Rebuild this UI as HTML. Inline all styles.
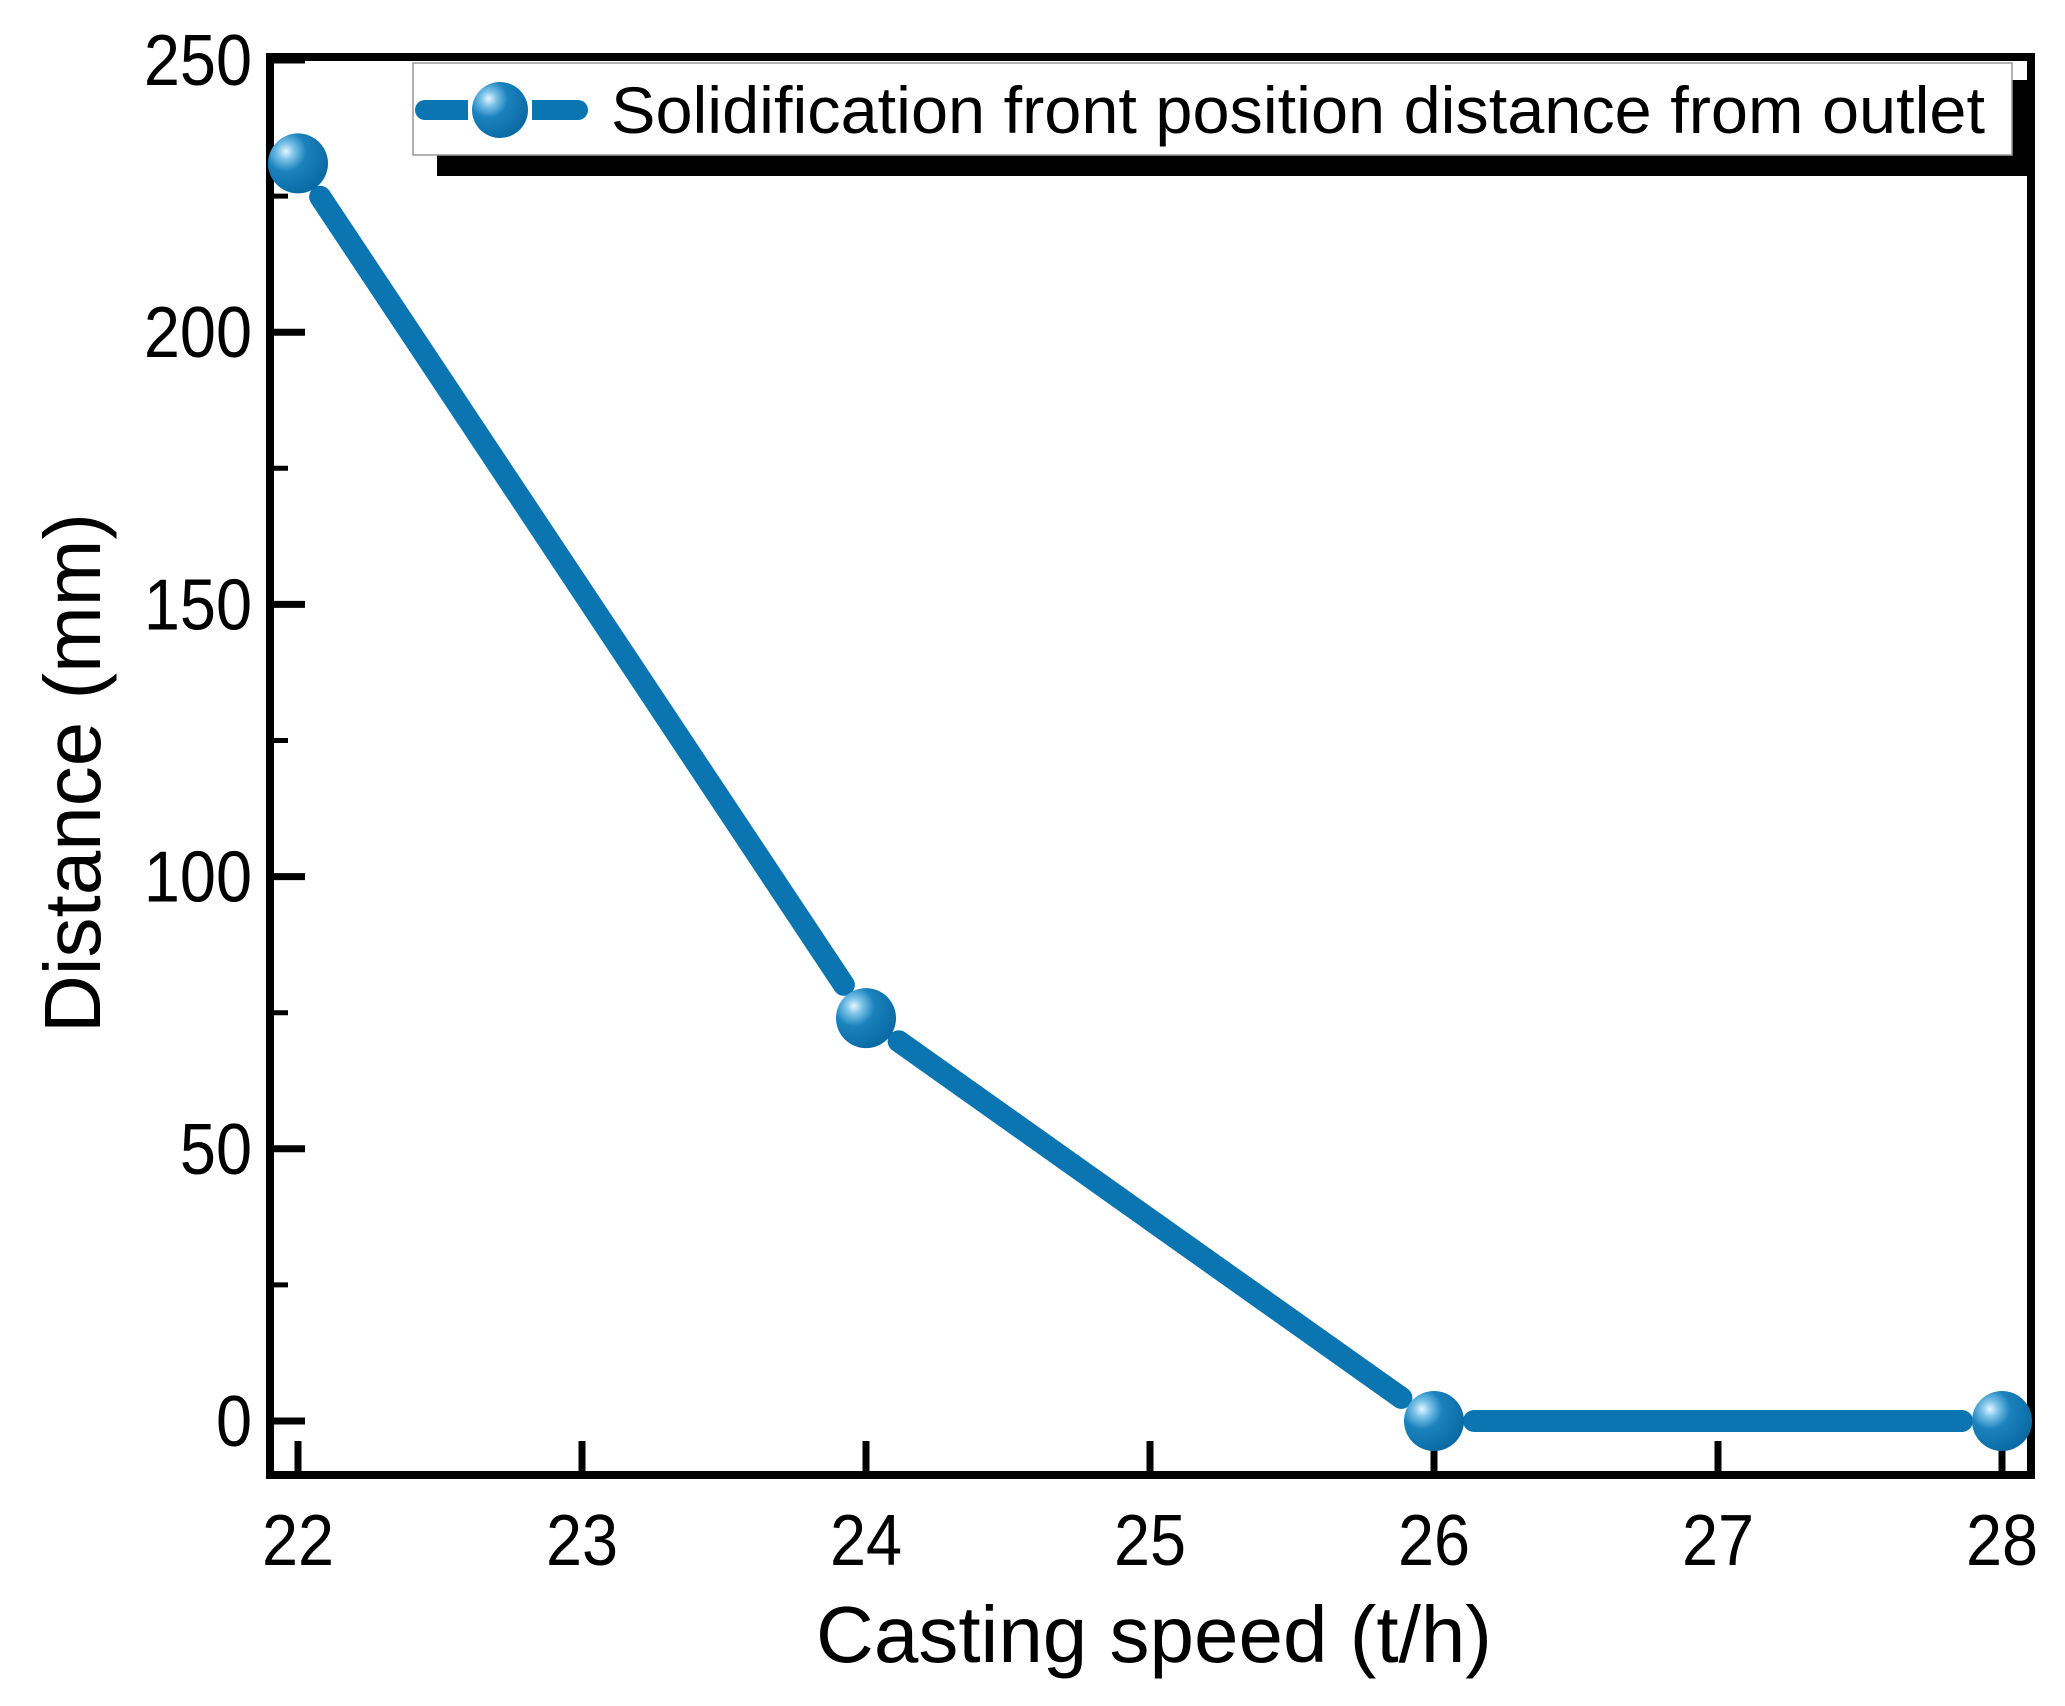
<!DOCTYPE html>
<html><head><meta charset="utf-8"><style>
html,body{margin:0;padding:0;background:#fff;}
svg{display:block;font-family:"Liberation Sans",sans-serif;}
</style></head><body>
<svg id="chart" width="2065" height="1706" viewBox="0 0 2065 1706">
<defs>
<radialGradient id="mk" cx="0.3" cy="0.3" r="0.75">
<stop offset="0" stop-color="#e8f6ff"/><stop offset="0.18" stop-color="#7cc3e8"/><stop offset="0.45" stop-color="#1a82bd"/><stop offset="1" stop-color="#0a6aa3"/>
</radialGradient>
</defs>
<g id="axes"></g>
<g id="series"></g>
<g id="legend">
<rect x="437" y="80" width="1595" height="96" fill="#000"/>
<rect x="413" y="63" width="1599" height="92" fill="#fff" stroke="#999" stroke-width="1.5"/>
<line x1="425" y1="110" x2="578" y2="110" stroke="#0a75b0" stroke-width="20" stroke-linecap="round"/>
<line x1="468" y1="110" x2="532" y2="110" stroke="#fff" stroke-width="24"/>
<circle cx="500" cy="110" r="28" fill="url(#mk)"/>
<text x="611" y="133" font-size="66" textLength="1374" lengthAdjust="spacingAndGlyphs" fill="#000">Solidification front position distance from outlet</text>
</g>
<text x="1154" y="1662" font-size="80" text-anchor="middle">Casting speed (t/h)</text>
<text transform="translate(100,773) rotate(-90)" font-size="80" text-anchor="middle">Distance (mm)</text>
</svg>
<script>
const categories = [22, 24, 26, 28];
const values = [231, 74, 0, 0];
const xTicks = [22, 23, 24, 25, 26, 27, 28];
const yTicks = [0, 50, 100, 150, 200, 250];
const yMinor = [25, 75, 125, 175, 225];

const NS = "http://www.w3.org/2000/svg";
const L = 270, R = 2031, T = 57, B = 1475;
const xs = v => 298 + (v - 22) * 284;
const ys = v => 1421 - v * (1421 - 60) / 250;
function mk(tag, attrs, parent) {
  const e = document.createElementNS(NS, tag);
  for (const k in attrs) e.setAttribute(k, attrs[k]);
  parent.appendChild(e);
  return e;
}
const axes = document.getElementById('axes');
const series = document.getElementById('series');
const frame = mk('rect', {x: L, y: T, width: R - L, height: B - T, fill: 'none', stroke: '#000', 'stroke-width': 8}, axes);


xTicks.forEach(t => {
  const ln = mk('line', {x1: xs(t), x2: xs(t), y1: B, y2: B - 34, stroke: '#000', 'stroke-width': 7}, axes);
  
  
  const tx = mk('text', {x: 0, y: 0, 'font-size': 72, 'text-anchor': 'middle', transform: 'translate(' + xs(t) + ',1565) scale(0.9,1)'}, axes);
  tx.textContent = t;
  
  
});
yTicks.forEach(t => {
  const ln = mk('line', {x1: L, x2: L + 35, y1: ys(t), y2: ys(t), stroke: '#000', 'stroke-width': 7}, axes);
  
  
  const tx = mk('text', {x: 0, y: 0, 'font-size': 72, 'text-anchor': 'end', transform: 'translate(252,' + (ys(t) + 25) + ') scale(0.9,1)'}, axes);
  tx.textContent = t;
  
  
});
yMinor.forEach(t => {
  const ln = mk('line', {x1: L, x2: L + 18, y1: ys(t), y2: ys(t), stroke: '#000', 'stroke-width': 5}, axes);
  
  
});
for (let i = 0; i < categories.length - 1; i++) {
  const x1 = xs(categories[i]), y1 = ys(values[i]), x2 = xs(categories[i + 1]), y2 = ys(values[i + 1]);
  const d = Math.hypot(x2 - x1, y2 - y1), ux = (x2 - x1) / d, uy = (y2 - y1) / d, g = 40;
  const seg = mk('line', {x1: x1 + ux * g, y1: y1 + uy * g, x2: x2 - ux * g, y2: y2 - uy * g, stroke: '#0a75b0', 'stroke-width': 22, 'stroke-linecap': 'round'}, series);
  
  
}
categories.forEach((c, i) => {
  const p = mk('circle', {cx: xs(c), cy: ys(values[i]), r: 30, fill: 'url(#mk)'}, series);
  
  
});
</script>
</body></html>
